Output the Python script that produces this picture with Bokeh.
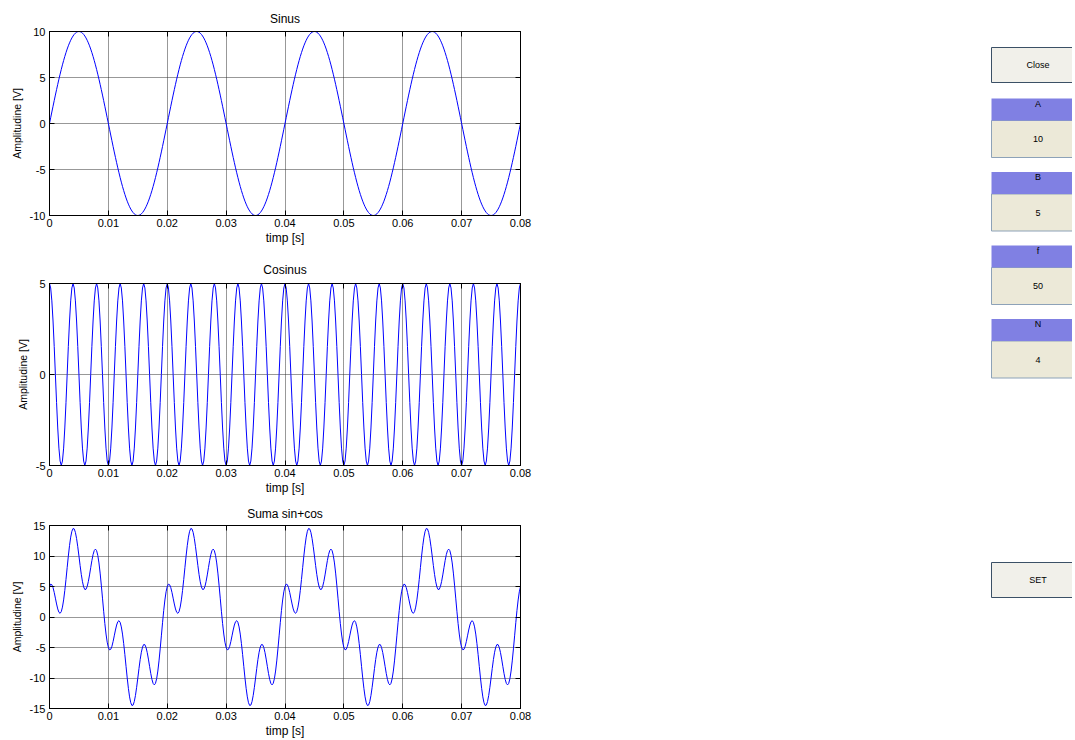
import numpy as np
from bokeh.plotting import figure
from bokeh.models import LinearAxis, FixedTicker, Range1d, PrintfTickFormatter
from bokeh.layouts import column, row
from bokeh.embed import file_html
from bokeh.resources import INLINE
from bokeh.core.properties import value

# ---- values shown in the GUI panel / ----
A = 10          # sine amplitude [V]
B = 5           # cosine amplitude [V]
f = 50          # sine frequency [Hz]
N = 4           # number of sine periods shown
f_cos = 250     # cosine frequency (20 cycles in 0.08 s)
dt = 0.0002     # sampling step [s]

t = np.arange(0, N / f + dt / 2, dt)
sinus = A * np.sin(2 * np.pi * f * t)
cosinus = B * np.cos(2 * np.pi * f_cos * t)
suma = sinus + cosinus

titles = ["Sinus", "Cosinus", "Suma sin+cos"]
x_label = "timp [s]"
y_label = "Amplitudine [V]"
x_ticks = [0, 0.01, 0.02, 0.03, 0.04, 0.05, 0.06, 0.07, 0.08]
y_ticks_sin = [-10, -5, 0, 5, 10]
y_ticks_cos = [-5, 0, 5]
y_ticks_sum = [-15, -10, -5, 0, 5, 10, 15]

panel_labels = ["A", "B", "f", "N"]
panel_values = [str(A), str(B), str(f), str(N)]
button_labels = ["Close", "SET"]

FONT = "Liberation Sans"
LEFT_W = 540


def make_plot(y, title, yticks, height, top, bottom, standoff):
    p = figure(width=LEFT_W, height=height,
               x_range=Range1d(x_ticks[0], x_ticks[-1]),
               y_range=Range1d(yticks[0], yticks[-1]),
               output_backend="svg", toolbar_location=None,
               min_border_left=49, min_border_right=20,
               min_border_top=top, min_border_bottom=bottom,
               background_fill_color="white", border_fill_color="white")
    p.title.text = title
    p.title.align = "center"
    p.title.text_font = FONT
    p.title.text_font_size = "12px"
    p.title.text_font_style = "normal"
    p.title.text_color = "black"
    p.title.standoff = standoff

    p.line(t, y, line_color="#0000ff", line_width=1)

    p.outline_line_color = "black"
    p.outline_line_width = 1

    fmt = PrintfTickFormatter(format="%g")
    for ax, ticks, lab in ((p.xaxis[0], x_ticks, x_label), (p.yaxis[0], yticks, y_label)):
        ax.ticker = FixedTicker(ticks=ticks)
        ax.formatter = fmt
        ax.major_tick_in = 5
        ax.major_tick_out = 0
        ax.minor_tick_line_color = None
        ax.major_tick_line_color = "black"
        ax.axis_line_color = "black"
        ax.major_label_text_font = FONT
        ax.major_label_text_font_size = "11px"
        ax.major_label_text_color = "black"
        ax.axis_label = lab
        ax.axis_label_text_font = FONT
        ax.axis_label_text_font_style = "normal"
        ax.axis_label_text_color = "black"
    p.xaxis.axis_label_text_font_size = "12px"
    p.yaxis.axis_label_text_font_size = "10.5px"
    p.xaxis.major_label_standoff = 3
    p.xaxis.axis_label_standoff = 1
    p.yaxis.major_label_standoff = 4
    p.yaxis.axis_label_standoff = 4

    for loc, ticks in (("above", x_ticks), ("right", yticks)):
        ax = LinearAxis(ticker=FixedTicker(ticks=ticks),
                        major_tick_in=5, major_tick_out=0,
                        minor_tick_line_color=None,
                        major_label_text_font_size="0px",
                        major_label_text_color=None,
                        major_label_standoff=0,
                        axis_line_color="black",
                        major_tick_line_color="black")
        p.add_layout(ax, loc)

    for g, ticks in ((p.xgrid[0], x_ticks), (p.ygrid[0], yticks)):
        g.ticker = FixedTicker(ticks=ticks)
        g.grid_line_color = "#303030"
        g.grid_line_dash = "1 1"
        g.grid_line_width = 1
    return p


p1 = make_plot(sinus, titles[0], y_ticks_sin, 250, 31, 35, 12)
p2 = make_plot(cosinus, titles[1], y_ticks_cos, 250, 33, 35, 14)
p3 = make_plot(suma, titles[2], y_ticks_sum, 240, 23, 31, 9)

# ---- right-hand control panel (drawn in page pixel coordinates) ----
PX0, PX1, PY0, PY1 = LEFT_W, 1072, 0, 740
panel = figure(width=PX1 - PX0, height=PY1 - PY0,
               x_range=Range1d(PX0, PX1), y_range=Range1d(PY1, PY0),
               output_backend="svg", toolbar_location=None, min_border=0,
               outline_line_color=None, background_fill_color="white",
               border_fill_color="white")
panel.axis.visible = False
panel.grid.visible = False

BTN_L, BTN_R, TXT_X = 991, 1090, 1037.5
btn_tops = [47, 562]
btn_h = 35
panel.quad(left=BTN_L, right=BTN_R, top=btn_tops, bottom=[b + btn_h for b in btn_tops],
           fill_color="#f1f0ea", line_color="#3b5066", line_width=1)
panel.text(x=[TXT_X] * 2, y=[b + btn_h / 2 for b in btn_tops], text=button_labels,
           text_font=value(FONT), text_font_size="9px", text_color="black",
           text_align="center", text_baseline="middle")

tops = [98 + i * 73.5 for i in range(len(panel_labels))]
head_h, box_h = 22, 37
panel.quad(left=BTN_L, right=BTN_R, top=[tp + head_h for tp in tops],
           bottom=[tp + head_h + box_h for tp in tops],
           fill_color="#ece9d8", line_color="#8da2b8", line_width=1)
panel.quad(left=BTN_L, right=BTN_R, top=tops, bottom=[tp + head_h for tp in tops],
           fill_color="#8080e3", line_color=None)
panel.text(x=[TXT_X] * 4, y=[tp + 5 for tp in tops], text=panel_labels,
           text_font=value(FONT), text_font_size="9px", text_color="black",
           text_align="center", text_baseline="middle")
panel.text(x=[TXT_X] * 4, y=[tp + head_h + box_h / 2 for tp in tops], text=panel_values,
           text_font=value(FONT), text_font_size="9px", text_color="black",
           text_align="center", text_baseline="middle")

layout = row(column(p1, p2, p3), panel)
open("out.html", "w").write(file_html(layout, INLINE))
